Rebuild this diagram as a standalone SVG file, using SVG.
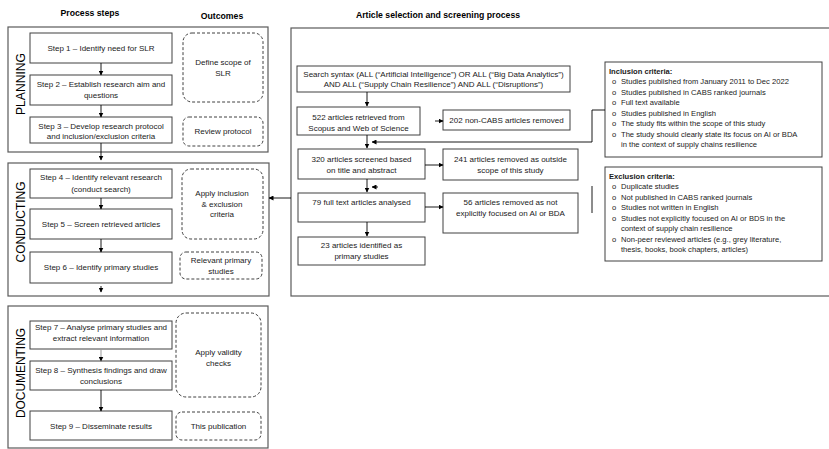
<svg xmlns="http://www.w3.org/2000/svg" width="829" height="449" viewBox="0 0 829 449">
<defs>
<marker id="ah" markerWidth="5" markerHeight="5" refX="4.5" refY="2.5" orient="auto" markerUnits="userSpaceOnUse">
<path d="M0,0 L5,2.5 L0,5 Z" fill="#000"/>
</marker>
<style>
text{font-family:"Liberation Sans",Arial,sans-serif;fill:#1a1a1a}
.t{font-size:8px;text-anchor:middle}
.h{font-size:8.7px;font-weight:bold;text-anchor:middle;fill:#000}
.v{font-size:13.5px;text-anchor:middle;fill:#000}
.l{font-size:7.6px}
.lb{font-size:7.6px;font-weight:bold}
.box{fill:#fff;stroke:#404040;stroke-width:1}
.sec{fill:none;stroke:#5a5a5a;stroke-width:1.2}
.out{fill:#fff;stroke:#404040;stroke-width:1;stroke-dasharray:3,2}
.c{fill:none;stroke:#000;stroke-width:0.9}
.cg{fill:none;stroke:#999;stroke-width:1}
</style>
</defs>
<rect width="829" height="449" fill="#fff"/>

<g id="titles">
<text class="h" x="90" y="16">Process steps</text>
<text class="h" x="222" y="19">Outcomes</text>
<text class="h" x="438" y="18">Article selection and screening process</text>
</g>

<g id="planning">
<rect class="sec" x="8" y="27" width="260" height="125"/>
<text class="v" transform="translate(25,84) rotate(-90)" textLength="62" lengthAdjust="spacingAndGlyphs">PLANNING</text>
</g>
<g id="conducting">
<rect class="sec" x="8" y="163" width="261" height="133"/>
<text class="v" transform="translate(25,222) rotate(-90)" textLength="81" lengthAdjust="spacingAndGlyphs">CONDUCTING</text>
</g>
<g id="documenting">
<rect class="sec" x="8" y="306" width="260" height="142"/>
<text class="v" transform="translate(25,373) rotate(-90)" textLength="90" lengthAdjust="spacingAndGlyphs">DOCUMENTING</text>
</g>
<g id="selection">
<rect class="sec" x="291" y="28" width="560" height="268"/>
</g>

<g id="step1"><rect class="box" x="30" y="33" width="142" height="30"/><text class="t" x="101" y="51">Step 1 – Identify need for SLR</text></g>
<g id="step2"><rect class="box" x="30" y="75" width="142" height="30"/><text class="t" x="101" y="87">Step 2 – Establish research aim and</text><text class="t" x="101" y="98">questions</text></g>
<g id="step3"><rect class="box" x="30" y="117" width="142" height="26"/><text class="t" x="101" y="128.5">Step 3 – Develop research protocol</text><text class="t" x="101" y="139">and inclusion/exclusion criteria</text></g>
<g id="scope"><rect class="out" x="183" y="33" width="80" height="69" rx="9"/><text class="t" x="223" y="65">Define scope of</text><text class="t" x="223" y="76">SLR</text></g>
<g id="review"><rect class="out" x="183" y="117" width="80" height="29" rx="6"/><text class="t" x="223" y="134">Review protocol</text></g>

<g id="step4"><rect class="box" x="30" y="169" width="142" height="29"/><text class="t" x="101" y="180">Step 4 – Identify relevant research</text><text class="t" x="101" y="191.5">(conduct search)</text></g>
<g id="step5"><rect class="box" x="30" y="209" width="142" height="30"/><text class="t" x="101" y="227">Step 5 – Screen retrieved articles</text></g>
<g id="step6"><rect class="box" x="30" y="252" width="142" height="31"/><text class="t" x="101" y="270">Step 6 – Identify primary studies</text></g>
<g id="apply"><rect class="out" x="182" y="169" width="81" height="70" rx="9"/><text class="t" x="222" y="196">Apply inclusion</text><text class="t" x="222" y="206.5">&amp; exclusion</text><text class="t" x="222" y="217">criteria</text></g>
<g id="relevant"><rect class="out" x="180" y="252" width="82" height="27" rx="6"/><text class="t" x="221" y="263">Relevant primary</text><text class="t" x="221" y="273.5">studies</text></g>

<g id="step7"><rect class="box" x="30" y="321" width="142" height="28"/><text class="t" x="101" y="330">Step 7 – Analyse primary studies and</text><text class="t" x="101" y="341">extract relevant information</text></g>
<g id="step8"><rect class="box" x="30" y="361" width="142" height="29"/><text class="t" x="101" y="373">Step 8 – Synthesis findings and draw</text><text class="t" x="101" y="384">conclusions</text></g>
<g id="step9"><rect class="box" x="30" y="411" width="142" height="29"/><text class="t" x="101" y="428.5">Step 9 – Disseminate results</text></g>
<g id="validity"><rect class="out" x="176" y="313" width="85" height="84" rx="10"/><text class="t" x="218.5" y="355">Apply validity</text><text class="t" x="218.5" y="365.5">checks</text></g>
<g id="publication"><rect class="out" x="176" y="412" width="85" height="28" rx="6"/><text class="t" x="218.5" y="428.5">This publication</text></g>

<g id="search"><rect class="box" x="297" y="66" width="273" height="26"/><text class="t" x="433.5" y="76.5">Search syntax (ALL (“Artificial Intelligence”) OR ALL (“Big Data Analytics”)</text><text class="t" x="433.5" y="87">AND ALL (“Supply Chain Resilience”) AND ALL (“Disruptions”)</text></g>
<g id="n522"><rect class="box" x="297" y="107" width="123" height="28"/><text class="t" x="358.5" y="120">522 articles retrieved from</text><text class="t" x="358.5" y="131">Scopus and Web of Science</text></g>
<g id="n202"><rect class="box" x="443" y="110" width="127" height="20"/><text class="t" x="506.5" y="123">202 non-CABS articles removed</text></g>
<g id="n320"><rect class="box" x="298" y="149" width="127" height="30"/><text class="t" x="361.5" y="162">320 articles screened based</text><text class="t" x="361.5" y="173">on title and abstract</text></g>
<g id="n241"><rect class="box" x="443" y="149" width="135" height="31"/><text class="t" x="510.5" y="162">241 articles removed as outside</text><text class="t" x="510.5" y="173">scope of this study</text></g>
<g id="n79"><rect class="box" x="298" y="193" width="127" height="29"/><text class="t" x="361.5" y="205">79 full text articles analysed</text></g>
<g id="n56"><rect class="box" x="443" y="193" width="135" height="40"/><text class="t" x="510.5" y="205">56 articles removed as not</text><text class="t" x="510.5" y="215.5">explicitly focused on AI or BDA</text></g>
<g id="n23"><rect class="box" x="298" y="237" width="127" height="28"/><text class="t" x="361.5" y="248">23 articles identified as</text><text class="t" x="361.5" y="258.5">primary studies</text></g>

<g id="inclusion"><rect class="box" x="605" y="62" width="217" height="95"/>
<text class="lb" x="609" y="73.5">Inclusion criteria:</text>
<text class="l" x="612" y="84">o</text><text class="l" x="621" y="84">Studies published from January 2011 to Dec 2022</text>
<text class="l" x="612" y="94.5">o</text><text class="l" x="621" y="94.5">Studies published in CABS ranked journals</text>
<text class="l" x="612" y="105">o</text><text class="l" x="621" y="105">Full text available</text>
<text class="l" x="612" y="115.5">o</text><text class="l" x="621" y="115.5">Studies published in English</text>
<text class="l" x="612" y="126">o</text><text class="l" x="621" y="126">The study fits within the scope of this study</text>
<text class="l" x="612" y="136.5">o</text><text class="l" x="621" y="136.5">The study should clearly state its focus on AI  or BDA</text>
<text class="l" x="621" y="147">in the context of supply chains resilience</text>
</g>
<g id="exclusion"><rect class="box" x="605" y="167" width="217" height="94"/>
<text class="lb" x="609" y="178.5">Exclusion criteria:</text>
<text class="l" x="612" y="189">o</text><text class="l" x="621" y="189">Duplicate studies</text>
<text class="l" x="612" y="199.5">o</text><text class="l" x="621" y="199.5">Not published in CABS ranked journals</text>
<text class="l" x="612" y="210">o</text><text class="l" x="621" y="210">Studies not written in English</text>
<text class="l" x="612" y="220.5">o</text><text class="l" x="621" y="220.5">Studies not explicitly focused on AI or BDS in the</text>
<text class="l" x="621" y="231">context of supply chain resilience</text>
<text class="l" x="612" y="241.5">o</text><text class="l" x="621" y="241.5">Non-peer reviewed articles (e.g.,  grey literature,</text>
<text class="l" x="621" y="252">thesis, books, book chapters, articles)</text>
</g>

<g id="connectors">
<line class="c" x1="101" y1="63" x2="101" y2="75" marker-end="url(#ah)"/>
<line class="c" x1="101" y1="105" x2="101" y2="117" marker-end="url(#ah)"/>
<line class="c" x1="101" y1="143" x2="101" y2="160" marker-end="url(#ah)"/>
<line class="c" x1="101" y1="198" x2="101" y2="209" marker-end="url(#ah)"/>
<line class="c" x1="101" y1="239" x2="101" y2="252" marker-end="url(#ah)"/>
<line class="c" x1="101" y1="286" x2="101" y2="292" marker-end="url(#ah)"/>
<line class="cg" x1="101" y1="349" x2="101" y2="361" marker-end="url(#ah)"/>
<line class="c" x1="101" y1="390" x2="101" y2="411" marker-end="url(#ah)"/>
<line class="c" x1="291" y1="198" x2="269" y2="198" marker-end="url(#ah)"/>
<line class="c" x1="367" y1="92" x2="367" y2="106" marker-end="url(#ah)"/>
<line class="c" x1="435" y1="121" x2="443" y2="121" marker-end="url(#ah)"/>
<line class="c" x1="367" y1="135" x2="367" y2="148" marker-end="url(#ah)"/>
<polyline class="c" points="605,110 592,110 592,142 372,142" marker-end="url(#ah)"/>
<line class="c" x1="425" y1="165" x2="443" y2="165" marker-end="url(#ah)"/>
<line class="c" x1="367" y1="179" x2="367" y2="192" marker-end="url(#ah)"/>
<line class="c" x1="378" y1="187" x2="372" y2="187" marker-end="url(#ah)"/>
<line class="c" x1="592" y1="186" x2="592" y2="213"/>
<line class="c" x1="425" y1="207" x2="443" y2="207" marker-end="url(#ah)"/>
<line class="c" x1="367" y1="222" x2="367" y2="236" marker-end="url(#ah)"/>
</g>
</svg>
